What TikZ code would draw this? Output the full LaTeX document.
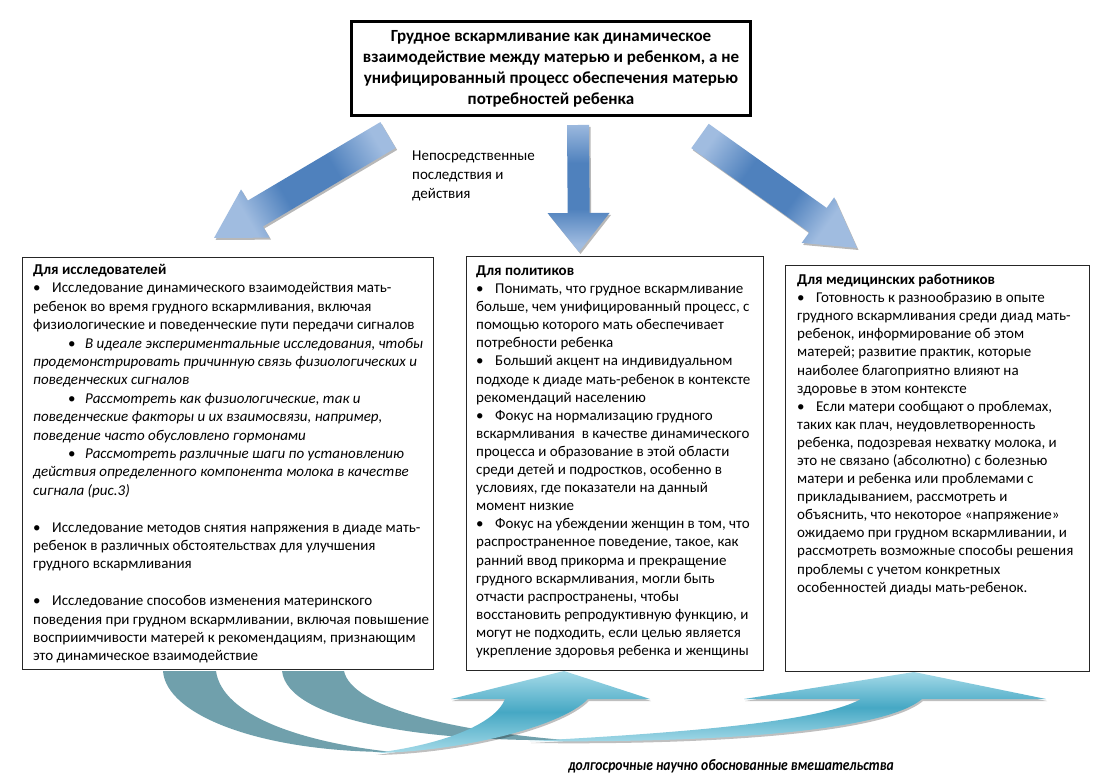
\documentclass[tikz,border=0pt]{standalone}
\usepackage{fontspec}
\usepackage{graphicx}
\setmainfont{Carlito}
\usetikzlibrary{calc}
\definecolor{arrL}{RGB}{160,188,224}
\definecolor{arrD}{RGB}{79,129,189}
\definecolor{aqL}{RGB}{165,218,232}
\definecolor{aqD}{RGB}{70,168,196}
\definecolor{tealdk}{RGB}{112,160,172}
\pgfdeclareverticalshading{blueax}{100bp}{color(0bp)=(arrL); color(28bp)=(arrL); color(42bp)=(arrD); color(60bp)=(arrD); color(76bp)=(arrL); color(100bp)=(arrL)}
\newcommand\bul{\makebox[19pt][l]{\textbullet}}
\newcommand\subbul{\hspace*{35pt}\makebox[17pt][l]{\textbullet}}
% name, tail, tip, shading angle, shaft half width, head half width, head length
\newcommand\blockarrow[7]{%
 \coordinate (#1-tail) at #2;
 \coordinate (#1-tip) at #3;
 \coordinate (#1-b) at ($(#1-tip)!#7!(#1-tail)$);
 \coordinate (#1-t1) at ($(#1-tail)!#5!-90:(#1-tip)$);
 \coordinate (#1-t2) at ($(#1-tail)!#5!90:(#1-tip)$);
 \coordinate (#1-j1) at ($(#1-b)!#5!-90:(#1-tip)$);
 \coordinate (#1-j2) at ($(#1-b)!#5!90:(#1-tip)$);
 \coordinate (#1-w1) at ($(#1-b)!#6!-90:(#1-tip)$);
 \coordinate (#1-w2) at ($(#1-b)!#6!90:(#1-tip)$);
 \fill[black,opacity=.28,transform canvas={shift={(1.5pt,-2pt)}}]
   (#1-t1)--(#1-j1)--(#1-w1)--(#1-tip)--(#1-w2)--(#1-j2)--(#1-t2)--cycle;
 \shade[shading=blueax,shading angle=#4]
   (#1-t1)--(#1-j1)--(#1-w1)--(#1-tip)--(#1-w2)--(#1-j2)--(#1-t2)--cycle;
}
\tikzset{
 boxnode/.style={draw=black!85,line width=1pt,inner sep=0,anchor=north west},
 boxtext/.style={anchor=base west,inner sep=0},
}
\begin{document}
\begin{tikzpicture}[x=1pt,y=-1pt]
\useasboundingbox (0,0) rectangle (1104,781);
\fill[white] (0,0) rectangle (1104,781);

% top box
\node[draw=black,line width=3pt,minimum width=399pt,minimum height=94pt,inner sep=0,
      align=center,font=\bfseries\fontsize{17}{21}\selectfont] (top) at (551,68.5)
 {Грудное вскармливание как динамическое\\взаимодействие между матерью и ребенком, а не\\унифицированный процесс обеспечения матерью\\потребностей ребенка};

% boxes
\node[boxnode,minimum width=411pt,minimum height=412pt] (res) at (22,257) {};
\node[boxnode,minimum width=297pt,minimum height=414pt] (pol) at (466,256) {};
\node[boxnode,minimum width=304pt,minimum height=406pt] (med) at (785,265) {};

% blue arrows
\blockarrow{al}{($(top.south west)+(38,18)$)}{($(res.north west)+(192,-19)$)}{-59.2}{15pt}{28pt}{48pt}
\blockarrow{am}{($(top.south west)+(228,8)$)}{($(pol.north west)+(113,-4)$)}{0}{11pt}{31pt}{39pt}
\blockarrow{ar}{($(top.south east)+(-52,19)$)}{($(med.north west)+(72,-17)$)}{54.2}{15pt}{28pt}{48pt}

% label
\node[boxtext] (lbl) at (412,160.5)
 {\parbox[t]{200pt}{\fontsize{15}{19}\selectfont Непосредственные\\последствия и\\действия}};

% left text
\node[boxtext] (restext) at (33,274.5) {\parbox[t]{600pt}{\fontsize{15}{18.4}\selectfont
\textbf{Для исследователей}\\
\bul Исследование динамического взаимодействия мать-\\
ребенок во время грудного вскармливания, включая\\
физиологические и поведенческие пути передачи сигналов\\
\subbul\textit{В идеале экспериментальные исследования, чтобы}\\
\textit{продемонстрировать причинную связь физиологических и}\\
\textit{поведенческих сигналов}\\
\subbul\textit{Рассмотреть как физиологические, так и}\\
\textit{поведенческие факторы и их взаимосвязи, например,}\\
\textit{поведение часто обусловлено гормонами}\\
\subbul\textit{Рассмотреть различные шаги по установлению}\\
\textit{действия определенного компонента молока в качестве}\\
\textit{сигнала (рис.3)}\\[18.4pt]
\bul Исследование методов снятия напряжения в диаде мать-\\
ребенок в различных обстоятельствах для улучшения\\
грудного вскармливания\\[18.4pt]
\bul Исследование способов изменения материнского\\
поведения при грудном вскармливании, включая повышение\\
восприимчивости матерей к рекомендациям, признающим\\
это динамическое взаимодействие}};

% middle text
\node[boxtext] (poltext) at (476,275.5) {\parbox[t]{600pt}{\fontsize{15}{18.1}\selectfont
\textbf{Для политиков}\\
\bul Понимать, что грудное вскармливание\\
больше, чем унифицированный процесс, с\\
помощью которого мать обеспечивает\\
потребности ребенка\\
\bul Больший акцент на индивидуальном\\
подходе к диаде мать-ребенок в контексте\\
рекомендаций населению\\
\bul Фокус на нормализацию грудного\\
вскармливания\ \ в качестве динамического\\
процесса и образование в этой области\\
среди детей и подростков, особенно в\\
условиях, где показатели на данный\\
момент низкие\\
\bul Фокус на убеждении женщин в том, что\\
распространенное поведение, такое, как\\
ранний ввод прикорма и прекращение\\
грудного вскармливания, могли быть\\
отчасти распространены, чтобы\\
восстановить репродуктивную функцию, и\\
могут не подходить, если целью является\\
укрепление здоровья ребенка и женщины}};

% right text
\node[boxtext] (medtext) at (797,284.5) {\parbox[t]{600pt}{\fontsize{15}{18.1}\selectfont
\textbf{Для медицинских работников}\\
\bul Готовность к разнообразию в опыте\\
грудного вскармливания среди диад мать-\\
ребенок, информирование об этом\\
матерей; развитие практик, которые\\
наиболее благоприятно влияют на\\
здоровье в этом контексте\\
\bul Если матери сообщают о проблемах,\\
таких как плач, неудовлетворенность\\
ребенка, подозревая нехватку молока, и\\
это не связано (абсолютно) с болезнью\\
матери и ребенка или проблемами с\\
прикладыванием, рассмотреть и\\
объяснить, что некоторое «напряжение»\\
ожидаемо при грудном вскармливании, и\\
рассмотреть возможные способы решения\\
проблемы с учетом конкретных\\
особенностей диады мать-ребенок.}};

% bottom curved arrows
% back (dark) parts
\fill[tealdk] (282,671) .. controls (288,722) and (430,742) .. (565,740)
  .. controls (455,731) and (352,708) .. (344,671) -- cycle;
\fill[tealdk] (163,671) .. controls (166,715) and (260,752) .. (392,752)
  .. controls (300,742) and (222,715) .. (216,671) -- cycle;
% front part, arrow to right box
\fill[black,opacity=.25,transform canvas={shift={(1pt,-2pt)}}]
  (530,741) .. controls (680,743) and (880,735) .. (922,699) -- (1046,699)
  -- ($(med.south west)+(129,0)$) -- (744,699) -- (861,699)
  .. controls (820,722) and (680,733) .. (530,741) -- cycle;
\shade[top color=aqL,bottom color=aqL,middle color=aqD]
  (530,741) .. controls (680,743) and (880,735) .. (922,699) -- (1046,699)
  -- ($(med.south west)+(129,0)$) -- (744,699) -- (861,699)
  .. controls (820,722) and (680,733) .. (530,741) -- cycle;
% front part, arrow to middle box
\fill[black,opacity=.25,transform canvas={shift={(1pt,-2pt)}}]
  (375,753) .. controls (455,752) and (560,728) .. (588,699) -- (650,699)
  -- ($(pol.south west)+(98,0)$) -- (451,699) -- (505,699)
  .. controls (495,725) and (440,745) .. (375,753) -- cycle;
\shade[top color=aqL,bottom color=aqL,middle color=aqD]
  (375,753) .. controls (455,752) and (560,728) .. (588,699) -- (650,699)
  -- ($(pol.south west)+(98,0)$) -- (451,699) -- (505,699)
  .. controls (495,725) and (440,745) .. (375,753) -- cycle;

% bottom label
\node[inner sep=0,font=\bfseries\itshape\fontsize{16}{18}\selectfont] (lt) at (731,766)
 {\scalebox{0.85}[1]{долгосрочные научно обоснованные вмешательства}};
\end{tikzpicture}
\end{document}
